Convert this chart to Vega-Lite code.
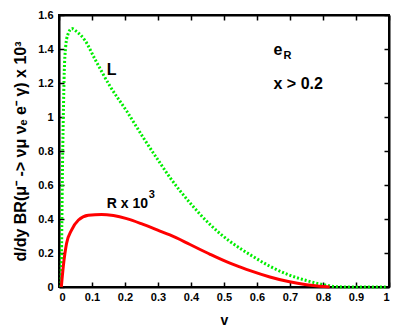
{
  "$schema": "https://vega.github.io/schema/vega-lite/v6.json",
  "width": 330,
  "height": 272,
  "autosize": {"type": "none"},
  "padding": {"left": 59, "top": 15, "right": 20, "bottom": 40},
  "background": "white",
  "config": {
    "view": {"stroke": "black", "strokeWidth": 2},
    "font": "Liberation Sans",
    "axis": {
      "grid": false,
      "domainColor": "black",
      "domainWidth": 2,
      "tickColor": "black",
      "tickWidth": 1.5,
      "tickSize": -5,
      "labelFont": "Liberation Sans",
      "labelFontWeight": "bold",
      "labelFontSize": 11,
      "labelColor": "black",
      "titleFont": "Liberation Sans",
      "titleFontWeight": "bold",
      "titleFontSize": 14,
      "titleColor": "black"
    }
  },
  "datasets": {
    "curves": [
      {"series": "L", "v": 0.006, "y": 0},
      {"series": "L", "v": 0.008, "y": 0.25},
      {"series": "L", "v": 0.010, "y": 0.62},
      {"series": "L", "v": 0.013, "y": 1.0},
      {"series": "L", "v": 0.016, "y": 1.27},
      {"series": "L", "v": 0.020, "y": 1.41},
      {"series": "L", "v": 0.026, "y": 1.48},
      {"series": "L", "v": 0.039, "y": 1.52},
      {"series": "L", "v": 0.052, "y": 1.505},
      {"series": "L", "v": 0.079, "y": 1.45},
      {"series": "L", "v": 0.109, "y": 1.34},
      {"series": "L", "v": 0.155, "y": 1.18},
      {"series": "L", "v": 0.205, "y": 1.035},
      {"series": "L", "v": 0.255, "y": 0.88},
      {"series": "L", "v": 0.306, "y": 0.73},
      {"series": "L", "v": 0.336, "y": 0.645},
      {"series": "L", "v": 0.397, "y": 0.495},
      {"series": "L", "v": 0.458, "y": 0.367},
      {"series": "L", "v": 0.518, "y": 0.268},
      {"series": "L", "v": 0.548, "y": 0.228},
      {"series": "L", "v": 0.579, "y": 0.19},
      {"series": "L", "v": 0.639, "y": 0.122},
      {"series": "L", "v": 0.695, "y": 0.072},
      {"series": "L", "v": 0.750, "y": 0.038},
      {"series": "L", "v": 0.800, "y": 0.014},
      {"series": "L", "v": 0.840, "y": 0.002},
      {"series": "L", "v": 0.870, "y": 0.0},
      {"series": "L", "v": 0.990, "y": 0.0},
      {"series": "R", "v": 0.007, "y": 0},
      {"series": "R", "v": 0.013, "y": 0.12},
      {"series": "R", "v": 0.023, "y": 0.257},
      {"series": "R", "v": 0.038, "y": 0.335},
      {"series": "R", "v": 0.059, "y": 0.394},
      {"series": "R", "v": 0.089, "y": 0.422},
      {"series": "R", "v": 0.129, "y": 0.427},
      {"series": "R", "v": 0.165, "y": 0.42},
      {"series": "R", "v": 0.205, "y": 0.402},
      {"series": "R", "v": 0.255, "y": 0.368},
      {"series": "R", "v": 0.306, "y": 0.329},
      {"series": "R", "v": 0.336, "y": 0.306},
      {"series": "R", "v": 0.397, "y": 0.250},
      {"series": "R", "v": 0.458, "y": 0.192},
      {"series": "R", "v": 0.518, "y": 0.140},
      {"series": "R", "v": 0.548, "y": 0.118},
      {"series": "R", "v": 0.579, "y": 0.096},
      {"series": "R", "v": 0.639, "y": 0.059},
      {"series": "R", "v": 0.695, "y": 0.032},
      {"series": "R", "v": 0.750, "y": 0.013},
      {"series": "R", "v": 0.790, "y": 0.004},
      {"series": "R", "v": 0.820, "y": 0.0}
    ],
    "bigLabels": [
      {"v": 0.145, "y": 1.276, "text": "L"},
      {"v": 0.650, "y": 1.394, "text": "e"},
      {"v": 0.650, "y": 1.194, "text": "x > 0.2"}
    ],
    "midLabels": [
      {"v": 0.145, "y": 0.49, "text": "R x 10"}
    ],
    "smallLabels": [
      {"v": 0.680, "y": 1.36, "text": "R"},
      {"v": 0.272, "y": 0.54, "text": "3"}
    ]
  },
  "resolve": {"axis": {"x": "independent", "y": "independent"}},
  "layer": [
    {
      "data": {"name": "curves"},
      "transform": [{"filter": "datum.series === 'L'"}],
      "mark": {"type": "line", "color": "#00ee00", "strokeWidth": 3, "strokeDash": [2, 2], "interpolate": "monotone"},
      "encoding": {
        "x": {"field": "v", "type": "quantitative", "scale": {"domain": [0, 1], "nice": false},
          "axis": {"orient": "bottom", "title": "v", "values": [0, 0.1, 0.2, 0.3, 0.4, 0.5, 0.6, 0.7, 0.8, 0.9, 1], "format": "~g", "labelPadding": 9, "titlePadding": 11}},
        "y": {"field": "y", "type": "quantitative", "scale": {"domain": [0, 1.6], "nice": false},
          "axis": {"orient": "left", "title": "d/dy BR(μ⁻ -> νμ νₑ e⁻ γ) x 10³", "titleFontSize": 16, "values": [0, 0.2, 0.4, 0.6, 0.8, 1, 1.2, 1.4, 1.6], "format": "~g", "labelPadding": 11, "titlePadding": 9}}
      }
    },
    {
      "data": {"name": "curves"},
      "transform": [{"filter": "datum.series === 'R'"}],
      "mark": {"type": "line", "color": "#ff0000", "strokeWidth": 3, "interpolate": "monotone"},
      "encoding": {
        "x": {"field": "v", "type": "quantitative",
          "axis": {"orient": "top", "title": null, "labels": false, "values": [0, 0.1, 0.2, 0.3, 0.4, 0.5, 0.6, 0.7, 0.8, 0.9, 1]}},
        "y": {"field": "y", "type": "quantitative",
          "axis": {"orient": "right", "title": null, "labels": false, "values": [0, 0.2, 0.4, 0.6, 0.8, 1, 1.2, 1.4, 1.6]}}
      }
    },
    {
      "data": {"name": "bigLabels"},
      "mark": {"type": "text", "align": "left", "baseline": "middle", "fontSize": 16, "fontWeight": "bold", "color": "black", "font": "Liberation Sans"},
      "encoding": {
        "x": {"field": "v", "type": "quantitative", "axis": null},
        "y": {"field": "y", "type": "quantitative", "axis": null},
        "text": {"field": "text"}
      }
    },
    {
      "data": {"name": "midLabels"},
      "mark": {"type": "text", "align": "left", "baseline": "middle", "fontSize": 14, "fontWeight": "bold", "color": "black", "font": "Liberation Sans"},
      "encoding": {
        "x": {"field": "v", "type": "quantitative", "axis": null},
        "y": {"field": "y", "type": "quantitative", "axis": null},
        "text": {"field": "text"}
      }
    },
    {
      "data": {"name": "smallLabels"},
      "mark": {"type": "text", "align": "left", "baseline": "middle", "fontSize": 11, "fontWeight": "bold", "color": "black", "font": "Liberation Sans"},
      "encoding": {
        "x": {"field": "v", "type": "quantitative", "axis": null},
        "y": {"field": "y", "type": "quantitative", "axis": null},
        "text": {"field": "text"}
      }
    }
  ]
}
